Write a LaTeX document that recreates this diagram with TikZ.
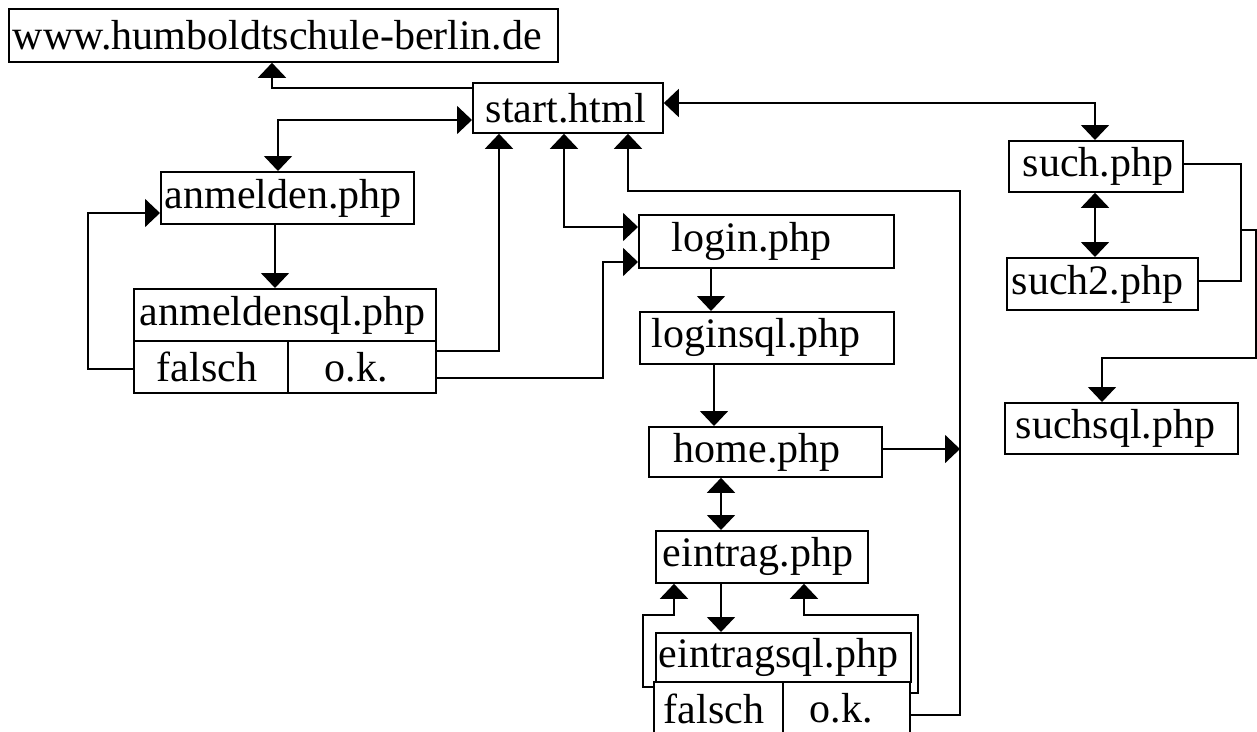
\documentclass[tikz,border=0pt]{standalone}
\usepackage{fontspec}
\setmainfont{Liberation Serif}
\usetikzlibrary{arrows.meta}
\tikzset{
  box/.style={draw, line width=1.8pt, inner sep=0pt, align=left, anchor=north west,
    font=\fontsize{42}{42}\selectfont},
  conn/.style={line width=1.8pt},
  arr/.style={conn, -{Triangle[width=28pt,length=15pt]}},
  darr/.style={conn, {Triangle[width=28pt,length=15pt]}-{Triangle[width=28pt,length=15pt]}}
}
\begin{document}
\begin{tikzpicture}[x=1pt,y=-1pt]
\useasboundingbox (0,0) rectangle (1257,731);
\fill[white] (0,0) rectangle (1257,731);
\clip (0,0) rectangle (1257,731);
% boxes
\node[box, text width=549pt, minimum height=53pt] (www) at (8,8) {\hspace*{4pt}www.humboldtschule-berlin.de};
\node[box, text width=190pt, minimum height=50pt] (start) at (472,82) {\hspace*{13pt}start.html};
\node[box, text width=253pt, minimum height=52pt] (anm) at (160,171) {\hspace*{4pt}anmelden.php};
\node[box, text width=302pt, minimum height=52pt] (anmsql) at (133,288) {\hspace*{6pt}anmeldensql.php};
\node[box, text width=154pt, minimum height=52pt] (anmF) at (133,340) {\hspace*{23pt}falsch};
\node[box, text width=148pt, minimum height=52pt] (anmOK) at (287,340) {\hspace*{37pt}o.k.};
\node[box, text width=255pt, minimum height=53pt] (login) at (638,214) {\hspace*{33pt}login.php};
\node[box, text width=254pt, minimum height=52pt] (loginsql) at (639,311) {\hspace*{12pt}loginsql.php};
\node[box, text width=233pt, minimum height=50pt] (home) at (648,426) {\hspace*{25pt}home.php};
\node[box, text width=212pt, minimum height=52pt] (eintrag) at (655,530) {\hspace*{7pt}eintrag.php};
\node[box, text width=255pt, minimum height=49pt] (esql) at (655,632) {\hspace*{3pt}eintragsql.php};
\node[box, text width=129pt, minimum height=60pt] (eF) at (653,681) {\hspace*{10pt}\raisebox{7pt}{falsch}};
\node[box, text width=127pt, minimum height=60pt] (eOK) at (782,681) {\hspace*{27pt}\raisebox{7pt}{o.k.}};
\node[box, text width=174pt, minimum height=51pt] (such) at (1008,140) {\hspace*{14pt}such.php};
\node[box, text width=191pt, minimum height=52pt] (such2) at (1006,257) {\hspace*{5pt}such2.php};
\node[box, text width=233pt, minimum height=51pt] (suchsql) at (1004,402) {\hspace*{11pt}suchsql.php};
% junctions
\coordinate (jhome) at (960,449);
\coordinate (jsuch) at (1241,230);
% connectors
\draw[arr] (start.west |- 0,88) -| (www.south -| 272,0);
\draw[darr] (anm.north -| 278,0) |- (start.west |- 0,120);
\draw[arr] (anm.south -| 275,0) -- (anmsql.north -| 275,0);
\draw[arr] (anmF.west |- 0,369) -- (88,369) |- (anm.west |- 0,213);
\draw[arr] (anmOK.east |- 0,351) -| (start.south -| 499,0);
\draw[arr] (anmOK.east |- 0,378) -| (603,262) -- (login.west |- 0,262);
\draw[darr] (start.south -| 564,0) |- (login.west |- 0,227);
\draw[arr] (eOK.east |- 0,715) -| (960,191) -| (start.south -| 628,0);
\draw[arr] (home.east |- 0,449) -- (jhome);
\draw[darr] (start.east |- 0,103) -| (such.north -| 1095,0);
\draw[arr] (login.south -| 711,0) -- (loginsql.north -| 711,0);
\draw[arr] (loginsql.south -| 714,0) -- (home.north -| 714,0);
\draw[darr] (home.south -| 721,0) -- (eintrag.north -| 721,0);
\draw[arr] (eintrag.south -| 721,0) -- (esql.north -| 721,0);
\draw[arr] (eF.west |- 0,687) -| (643,615) -| (eintrag.south -| 674,0);
\draw[arr] (eOK.east |- 0,693) -| (918,615) -| (eintrag.south -| 804,0);
\draw[darr] (such.south -| 1095,0) -- (such2.north -| 1095,0);
\draw[conn] (such.east |- 0,164) -| (1241,281) -- (such2.east |- 0,281);
\draw[arr] (jsuch) -| (1256,358) -| (suchsql.north -| 1102,0);
\end{tikzpicture}
\end{document}
